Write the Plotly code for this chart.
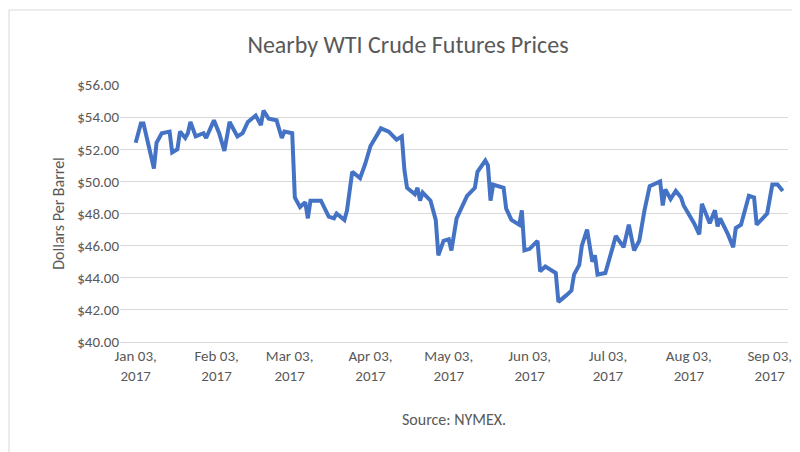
import plotly.graph_objects as go
import pandas as pd

days = [0,2,3,5,7,8,10,13,14,16,17,19,20,21,23,26,27,30,32,34,36,39,41,43,46,48,49,51,54,56,57,60,61,63,65,66,67,71,74,76,77,80,81,83,86,88,90,94,97,100,102,103,104,107,108,109,110,113,115,116,118,120,121,123,127,130,131,134,135,136,137,141,142,144,147,148,149,151,154,155,157,161,162,165,167,168,170,171,173,175,176,177,180,183,184,187,189,191,193,195,197,201,202,203,205,207,209,210,214,216,217,220,222,223,224,227,229,230,232,235,237,238,242,244,246,248]
prices = [52.4,53.6,53.6,52.1,50.8,52.4,53.0,53.1,51.8,52.0,53.1,52.7,53.0,53.7,52.8,53.0,52.7,53.8,53.0,51.9,53.7,52.8,53.0,53.7,54.1,53.5,54.4,53.9,53.8,52.7,53.1,53.0,49.0,48.4,48.7,47.7,48.8,48.8,47.8,47.7,48.0,47.6,48.2,50.6,50.2,51.1,52.2,53.3,53.1,52.6,52.8,50.7,49.6,49.2,49.6,48.8,49.3,48.8,47.6,45.4,46.3,46.4,45.7,47.7,49.1,49.6,50.6,51.3,51.0,48.8,49.8,49.6,48.3,47.6,47.3,48.2,45.7,45.8,46.3,44.4,44.7,44.3,42.5,42.9,43.2,44.2,44.8,46.0,47.0,45.0,45.4,44.2,44.3,46.0,46.6,45.9,47.3,45.7,46.3,48.2,49.7,50.0,48.5,49.5,48.9,49.4,49.0,48.5,47.4,46.7,48.6,47.4,48.2,47.2,47.7,46.7,45.9,47.1,47.3,49.1,49.0,47.3,48.0,49.8,49.8,49.4]
tick_dates = ["2017-01-03","2017-02-03","2017-03-03","2017-04-03","2017-05-03","2017-06-03","2017-07-03","2017-08-03","2017-09-03"]
tick_labels = ["Jan 03,<br>2017","Feb 03,<br>2017","Mar 03,<br>2017","Apr 03,<br>2017","May 03,<br>2017","Jun 03,<br>2017","Jul 03,<br>2017","Aug 03,<br>2017","Sep 03,<br>2017"]
y_ticks = [40,42,44,46,48,50,52,54,56]

start = pd.Timestamp("2017-01-03")
dates = [start + pd.Timedelta(days=d) for d in days]

fig = go.Figure(go.Scatter(x=dates, y=prices, mode="lines",
                           line=dict(color="#4472C4", width=4), hoverinfo="skip"))
font = "Carlito, 'Open Sans', sans-serif"
fig.update_layout(
    width=800, height=452, paper_bgcolor="white", plot_bgcolor="white",
    margin=dict(l=112, r=20, t=77, b=118, autoexpand=False),
    font=dict(family=font, color="#595959", size=15),
    title=dict(text="Nearby WTI Crude Futures Prices", x=0.5, xanchor="center", y=0.918, yanchor="middle",
               font=dict(size=24, color="#595959")),
    showlegend=False,
    xaxis=dict(range=[start - pd.Timedelta(days=6), start + pd.Timedelta(days=250)],
               tickvals=tick_dates, ticktext=tick_labels, showgrid=False, showline=True, automargin=False,
               linecolor="#d9d9d9", ticks="", tickfont=dict(size=15)),
    yaxis=dict(range=[40, 56], tickvals=y_ticks, ticktext=[f"${v:.2f}" for v in y_ticks], automargin=False,
               gridcolor="#d9d9d9", gridwidth=1, zeroline=False, ticks="", ticklen=4, tickcolor="white",
               tickfont=dict(size=15),
               title=dict(text="Dollars Per Barrel", font=dict(size=16), standoff=8)),
    shapes=[dict(type="rect", xref="paper", yref="paper", x0=-111/668, x1=1+18/668, y0=-116/257, y1=1+75/257,
                 line=dict(color="#d9d9d9", width=1))],
    annotations=[dict(text="Source: NYMEX.", xref="paper", yref="paper", x=0.5, y=-77/257,
                      showarrow=False, yanchor="middle", font=dict(size=16, color="#595959"))],
)
fig.write_html("out.html")
